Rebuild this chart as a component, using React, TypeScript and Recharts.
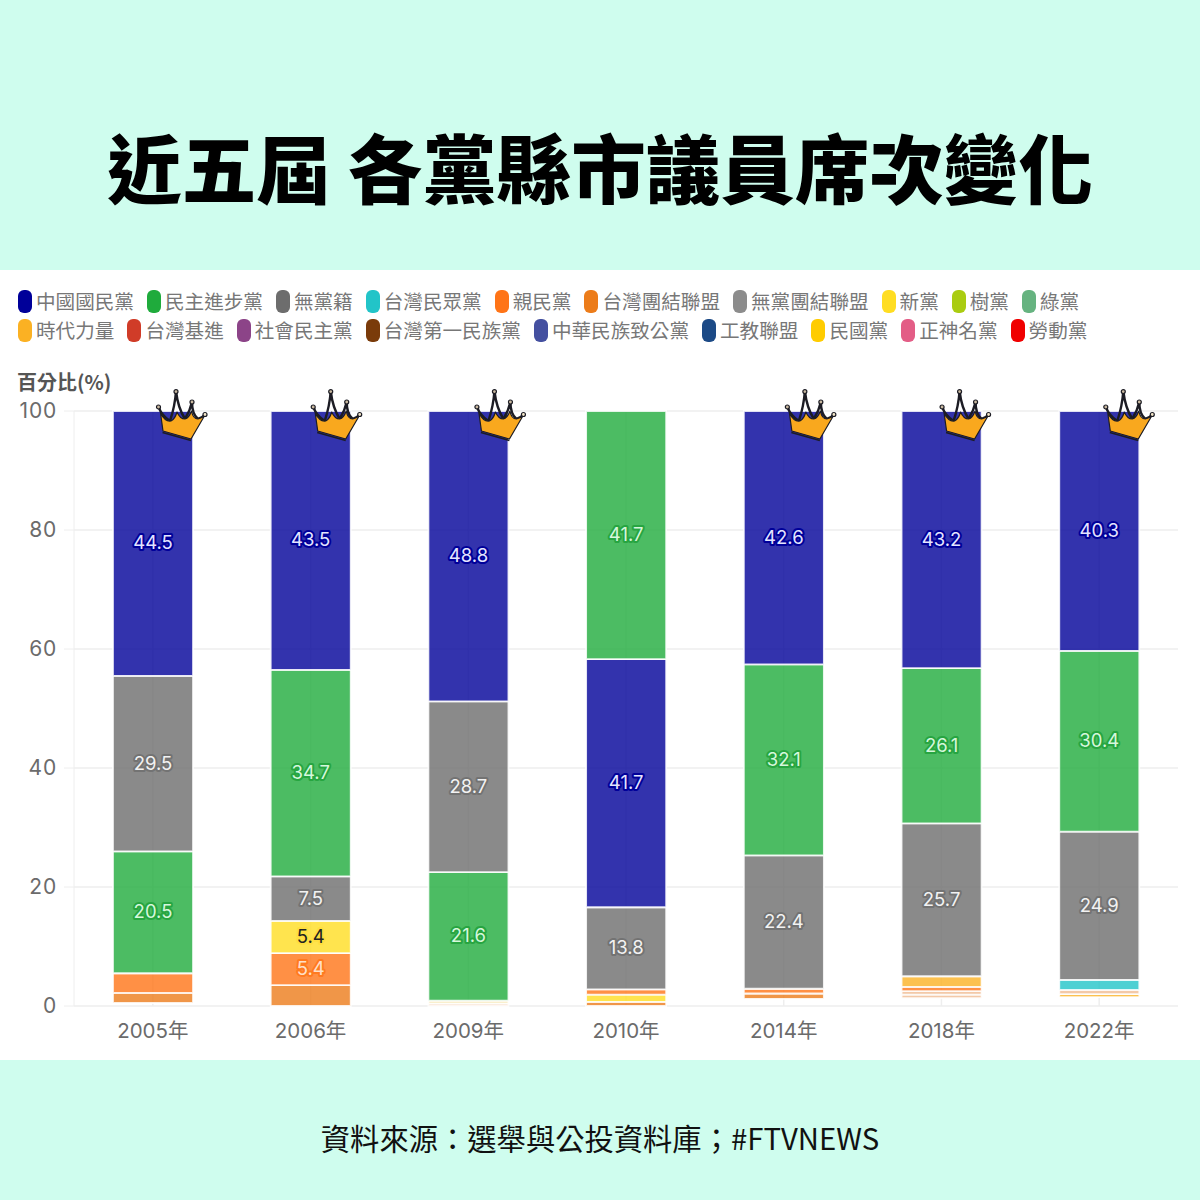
import React from 'react';
import { BarChart, Bar, Cell, XAxis, YAxis, CartesianGrid, LabelList } from 'recharts';

const FONT = '"Noto Sans CJK TC", "Noto Sans", sans-serif';
const AXIS_FONT = 'Inter, "Noto Sans CJK TC", sans-serif';

const legendRow1 = ['中國國民黨', '民主進步黨', '無黨籍', '台灣民眾黨', '親民黨', '台灣團結聯盟', '無黨團結聯盟', '新黨', '樹黨', '綠黨'];
const legendRow2 = ['時代力量', '台灣基進', '社會民主黨', '台灣第一民族黨', '中華民族致公黨', '工教聯盟', '民國黨', '正神名黨', '勞動黨'];

const partyColors: Record<string, string> = {
  中國國民黨: '#000099', 民主進步黨: '#1FAB3C', 無黨籍: '#6D6D6D', 台灣民眾黨: '#22C4C8', 親民黨: '#FF7417',
  台灣團結聯盟: '#EC7C1A', 無黨團結聯盟: '#8C8C8C', 新黨: '#FFDD22', 樹黨: '#AACC11', 綠黨: '#66B380',
  時代力量: '#FBB123', 台灣基進: '#D03C28', 社會民主黨: '#8C4488', 台灣第一民族黨: '#7A3B0A', 中華民族致公黨: '#4450A0',
  工教聯盟: '#1C4A86', 民國黨: '#FFCC00', 正神名黨: '#E35D86', 勞動黨: '#F00000',
  其他淡橙: '#F3C9A8', 其他淡黃: '#F8EBC0', 其他: 'transparent',
};

const haloColors: Record<string, string> = { 中國國民黨: '#000099', 民主進步黨: '#27A541', 無黨籍: '#737373', 親民黨: '#FF7A20', 新黨: '#FFDF3F' };
const labelColors: Record<string, string> = { 中國國民黨: '#E4E4FF', 民主進步黨: '#D6F7DC', 無黨籍: '#F2F2F2', 親民黨: '#FFE0C8', 新黨: '#222222' };

const years = ['2005年', '2006年', '2009年', '2010年', '2014年', '2018年', '2022年'];

const parties2005 = ['其他', '台灣團結聯盟', '親民黨', '民主進步黨', '無黨籍', '中國國民黨'];
const values2005 = [0.5, 1.7, 3.3, 20.5, 29.5, 44.5];
const parties2006 = ['台灣團結聯盟', '親民黨', '新黨', '無黨籍', '民主進步黨', '中國國民黨'];
const values2006 = [3.5, 5.4, 5.4, 7.5, 34.7, 43.5];
const parties2009 = ['其他淡橙', '其他淡黃', '民主進步黨', '無黨籍', '中國國民黨'];
const values2009 = [0.4, 0.5, 21.6, 28.7, 48.8];
const parties2010 = ['台灣團結聯盟', '新黨', '親民黨', '無黨籍', '中國國民黨', '民主進步黨'];
const values2010 = [0.7, 1.2, 0.9, 13.8, 41.7, 41.7];
const parties2014 = ['其他', '台灣團結聯盟', '親民黨', '無黨籍', '民主進步黨', '中國國民黨'];
const values2014 = [1.2, 0.9, 0.8, 22.4, 32.1, 42.6];
const parties2018 = ['其他', '其他淡橙', '其他淡橙', '親民黨', '時代力量', '無黨籍', '民主進步黨', '中國國民黨'];
const values2018 = [1.3, 0.6, 0.6, 0.7, 1.8, 25.7, 26.1, 43.2];
const parties2022 = ['其他', '時代力量', '其他淡橙', '台灣民眾黨', '無黨籍', '民主進步黨', '中國國民黨'];
const values2022 = [1.5, 0.5, 0.7, 1.7, 24.9, 30.4, 40.3];

const yearParties = [parties2005, parties2006, parties2009, parties2010, parties2014, parties2018, parties2022];
const yearValues = [values2005, values2006, values2009, values2010, values2014, values2018, values2022];
const crownYears = ['2005年', '2006年', '2009年', '2014年', '2018年', '2022年'];
const crownNudge: Record<string, number> = { '2005年': 43, '2006年': 40, '2009年': 46, '2014年': 41, '2018年': 38, '2022年': 44 };

const slotCount = 8;
const slots = Array.from({ length: slotCount }, (_, i) => `s${i}`);
const tableRows = years.map((year, yi) => {
  const row: Record<string, string | number> = { year };
  slots.forEach((key, si) => { row[key] = yearValues[yi][si] ?? 0; });
  return row;
});

const PLOT_LEFT = 74;
const PLOT_RIGHT_MARGIN = 22;
const BAND = (1200 - PLOT_RIGHT_MARGIN - PLOT_LEFT) / years.length;

function Crown({ x, y }: { x: number; y: number }) {
  return (
    <g transform={`translate(${x},${y})`}>
      <g fill="none" stroke="#1c1c24" strokeWidth={2.4} strokeLinecap="round">
        <path d="M2.5 17 Q6 26 14 31" />
        <path d="M14 31 Q19 16 20 1 Q22 18 29 29" />
        <path d="M29 29 Q34 21 36 12 Q36 24 42 29" />
        <path d="M42 29 Q46 28 49 24.5" />
      </g>
      <path d="M4.5 23 Q9 32 15 31 Q19 29 21 22 Q24 29 29 29 Q33 28 35.5 21 Q37 29 42 29 Q46 28 49 25 L35 49 L7 41 Z"
        fill="#F9A81E" stroke="#1c1c24" strokeWidth={1.2} strokeLinejoin="round" />
      <path d="M6.5 42.5 L35 50.5" fill="none" stroke="#1c1c24" strokeWidth={1.6} />
      <circle cx={2.5} cy={17} r={2} fill="#C9B9A0" stroke="#1c1c24" strokeWidth={1.2} />
      <circle cx={20} cy={1.6} r={2} fill="#C9B9A0" stroke="#1c1c24" strokeWidth={1.2} />
      <circle cx={36} cy={12} r={2} fill="#C9B9A0" stroke="#1c1c24" strokeWidth={1.2} />
      <circle cx={49} cy={24.5} r={2} fill="#F3E6C8" stroke="#1c1c24" strokeWidth={1.2} />
    </g>
  );
}

function makeLabel(slot: number) {
  return function SliceLabel(props: any) {
    const { x, y, width, height, value } = props;
    if (!value) return null;
    // zero-height entries are skipped by the list, so the year comes from the bar's band
    const index = Math.floor((x + width / 2 - PLOT_LEFT) / BAND);
    const party = yearParties[index][slot];
    const isTop = slot === yearParties[index].length - 1;
    const year = years[index];
    const showCrown = isTop && crownYears.includes(year);
    return (
      <g>
        {Number(value) >= 5 && (
          <text
            x={x + width / 2}
            y={y + height / 2 - 1}
            textAnchor="middle"
            dominantBaseline="central"
            fontFamily={AXIS_FONT}
            fontSize={18.5}
            fill={labelColors[party] || '#fff'}
            stroke={haloColors[party] || partyColors[party]}
            strokeWidth={4}
            strokeLinejoin="round"
            paintOrder="stroke"
          >
            {value}
          </text>
        )}
        {showCrown && <Crown x={x + crownNudge[year]} y={y - 21} />}
      </g>
    );
  };
}

function LegendRow({ names, top }: { names: string[]; top: number }) {
  return (
    <div style={{ position: 'absolute', left: 18, top, display: 'flex', gap: 13, alignItems: 'center', height: 24, whiteSpace: 'nowrap' }}>
      {names.map((n) => (
        <div key={n} style={{ display: 'flex', alignItems: 'center', gap: 4 }}>
          <span style={{ width: 14, height: 23, borderRadius: 6, background: partyColors[n], display: 'inline-block' }} />
          <span style={{ fontSize: 19.6, color: '#777', lineHeight: '24px' }}>{n}</span>
        </div>
      ))}
    </div>
  );
}

export default function App() {
  return (
    <div style={{ position: 'absolute', left: 0, top: 0, width: 1200, height: 1200, background: '#CFFDEE', fontFamily: FONT, overflow: 'hidden' }}>
      <div style={{ position: 'absolute', left: 0, right: 0, top: 116, textAlign: 'center', fontSize: 74.5, lineHeight: '100px', fontWeight: 900, color: '#000', whiteSpace: 'pre' }}>
        近五屆 各黨縣市議員席次變化
      </div>
      <div style={{ position: 'absolute', left: 0, top: 270, width: 1200, height: 790, background: '#fff' }}>
        <div style={{ position: 'absolute', left: 0, top: 0 }}>
          <BarChart
            width={1200}
            height={790}
            data={tableRows}
            margin={{ top: 141, right: PLOT_RIGHT_MARGIN, bottom: 0, left: 0 }}
            barCategoryGap="49%"
          >
            <CartesianGrid stroke="#EEEEEE" strokeWidth={1.5} syncWithTicks />
            <XAxis dataKey="year" height={54} tickLine={false} axisLine={false} tick={{ fontSize: 20.5, fill: '#6B6B6B', fontFamily: AXIS_FONT }} tickMargin={11} />
            <YAxis width={PLOT_LEFT} domain={[0, 100]} ticks={[0, 20, 40, 60, 80, 100]} tick={{ fontSize: 21, letterSpacing: 0.8, fill: '#6B6B6B', fontFamily: AXIS_FONT }} tickSize={10} tickMargin={7} tickLine={{ stroke: '#EEEEEE' }} axisLine={{ stroke: '#EEEEEE' }} />
            {slots.map((key, si) => (
              <Bar key={key} dataKey={key} stackId="a" isAnimationActive={false} barSize={80}>
                {years.map((y, yi) => {
                  const party = yearParties[yi][si];
                  const col = party ? partyColors[party] : 'transparent';
                  const soft = party && party.startsWith('其他');
                  return (
                    <Cell key={y} fill={col} fillOpacity={soft ? 1 : 0.8} stroke={party === '其他' || !party ? 'none' : '#FFFFFF'} strokeWidth={1.8} strokeOpacity={0.85} />
                  );
                })}
                <LabelList dataKey={key} content={makeLabel(si)} />
              </Bar>
            ))}
          </BarChart>
        </div>
        <LegendRow names={legendRow1} top={19} />
        <LegendRow names={legendRow2} top={48} />
        <div style={{ position: 'absolute', left: 17, top: 98, fontSize: 20, fontWeight: 700, color: '#555', lineHeight: '28px' }}>百分比(%)</div>
      </div>
      <div style={{ position: 'absolute', left: 0, right: 0, top: 1116, textAlign: 'center', fontSize: 29.3, lineHeight: '42px', color: '#111', whiteSpace: 'pre' }}>
        資料來源：選舉與公投資料庫；#FTVNEWS
      </div>
    </div>
  );
}
